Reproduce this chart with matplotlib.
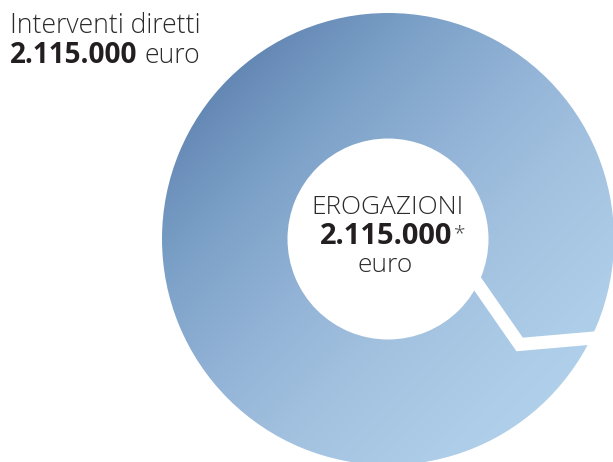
import matplotlib
matplotlib.use("Agg")
import matplotlib.pyplot as plt
import numpy as np
from matplotlib.colors import LinearSegmentedColormap

# ---- data ----
categories = ["Interventi diretti"]
values = [2115000]
center_title = "EROGAZIONI"
unit = "euro"

def fmt(v):
    return f"{v:,}".replace(",", ".")

W, H, DPI = 613, 462, 100
fig = plt.figure(figsize=(W / DPI, H / DPI), dpi=DPI)
ax = fig.add_axes([0, 0, 1, 1])

cx, cy, R, r = 388.0, 239.0, 226.0, 100.5
wedges, _ = ax.pie(values, radius=R, center=(cx, cy), startangle=0,
                   wedgeprops=dict(width=R - r, facecolor="none", edgecolor="none"),
                   frame=True)
ax.set_xlim(0, W)
ax.set_ylim(H, 0)
ax.set_aspect("equal")
ax.axis("off")

# gradient fill clipped to the ring
x0, x1, y0, y1 = cx - R, cx + R, cy - R, cy + R
xs = np.linspace(x0, x1, 600)
ys = np.linspace(y0, y1, 600)
X, Y = np.meshgrid(xs, ys)
T = ((X - x0) + (Y - y0)) / (4 * R)
cmap = LinearSegmentedColormap.from_list("g", [
    (0.0, "#5a7fad"), (0.15, "#6589b5"), (0.28, "#7a9fc6"),
    (0.48, "#95b5d8"), (0.62, "#a3c2e0"), (0.8, "#aecde8"), (1.0, "#b6d5ef")])
im = ax.imshow(T, cmap=cmap, vmin=0, vmax=1, origin="lower",
               extent=(x0, x1, y0, y1), interpolation="bilinear", zorder=1)
im.set_clip_path(wedges[0])
ax.set_xlim(0, W)
ax.set_ylim(H, 0)

# white separator (bent gap)
corner = (cx + 168.7 * np.cos(np.radians(38.7)), cy + 168.7 * np.sin(np.radians(38.7)))
d1 = np.array([0.57, 0.82])
start = np.array(corner) - d1 * 80
end = np.array(corner) + np.array([np.cos(np.radians(-5)), np.sin(np.radians(-5))]) * 150
ax.plot([start[0], corner[0], end[0]], [start[1], corner[1], end[1]],
        color="white", lw=13 * 0.72, solid_joinstyle="miter",
        solid_capstyle="butt", zorder=2)

fig.canvas.draw()
renderer = fig.canvas.get_renderer()

def fit_text(x, y, s, width, **kw):
    t = ax.text(x, y, s, va="baseline", ha="left", zorder=5, **kw)
    bb = t.get_window_extent(renderer)
    t.set_fontsize(t.get_fontsize() * width / bb.width)
    return t

fam = ["Open Sans", "DejaVu Sans"]
light = dict(family=fam, fontweight="light", color="#2b2b2b")
bold = dict(family=fam, fontweight="bold", color="#231f20")

t1 = fit_text(10, 33.3, categories[0], 191, fontsize=18, **light)
fit_text(10, 62.7, fmt(values[0]), 127, fontsize=18, **bold)
ax.text(145, 62.7, unit, va="baseline", ha="left", fontsize=t1.get_fontsize(),
        zorder=5, **light)

t2 = fit_text(311.5, 213.5, center_title, 152.5, fontsize=20, **light)
fit_text(320, 244, fmt(sum(values)), 133, fontsize=20, **bold)
ax.text(453.5, 239, "*", va="baseline", ha="left", fontsize=15,
        zorder=5, family=fam, fontweight="light", color="#4a4a4a")
ax.text(385, 271.7, unit, va="baseline", ha="center", fontsize=t2.get_fontsize(),
        zorder=5, **light)

fig.savefig("out.png", dpi=DPI)
